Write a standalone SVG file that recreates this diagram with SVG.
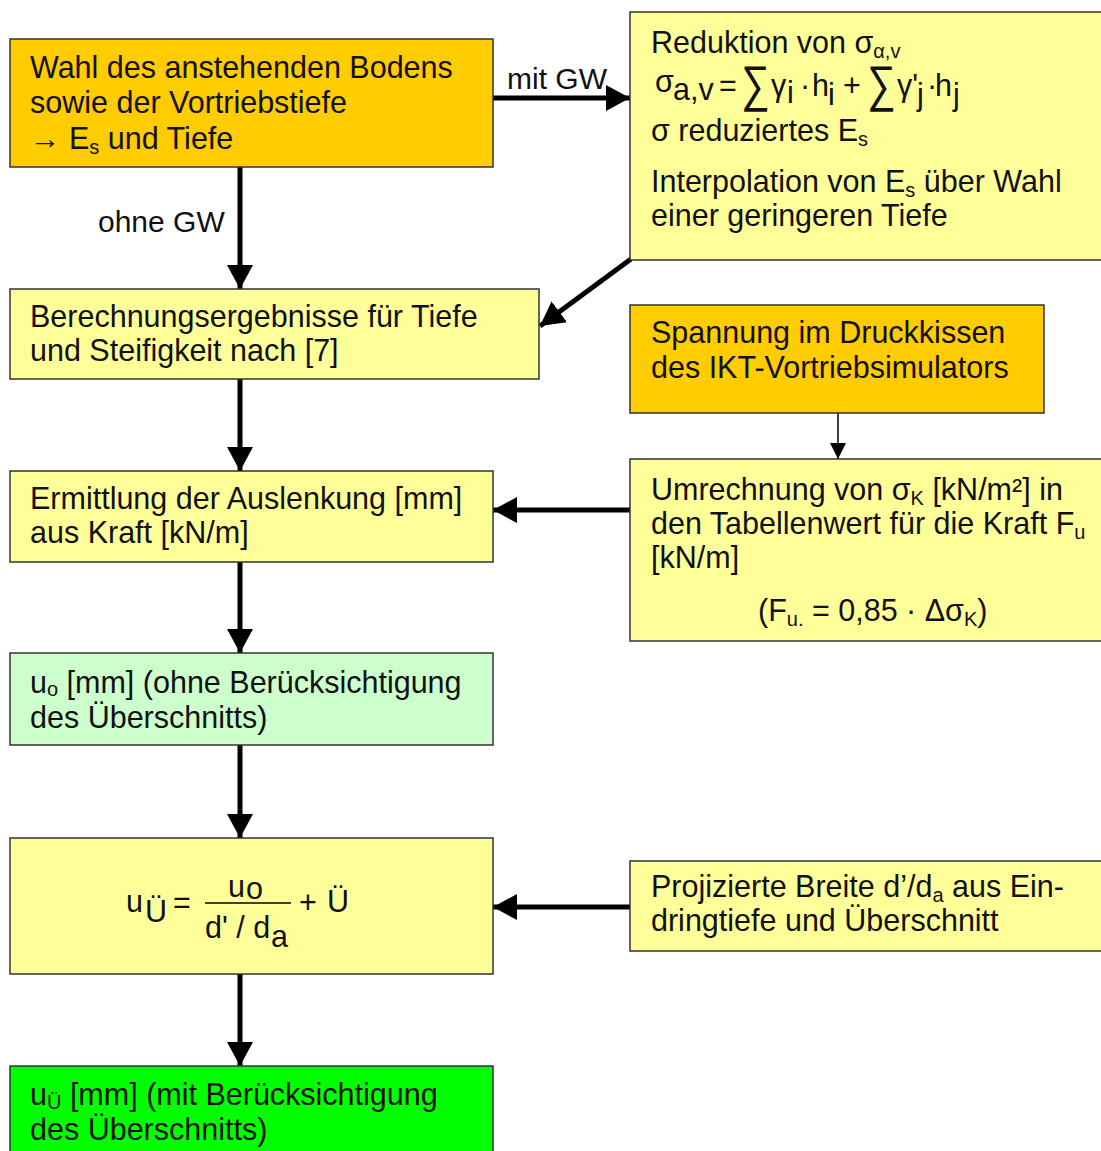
<svg xmlns="http://www.w3.org/2000/svg" width="1101" height="1151" viewBox="0 0 1101 1151">
<defs>
<style>
text{font-family:"Liberation Sans",Arial,"DejaVu Sans",sans-serif;font-size:30.5px;fill:#111;}
.box{stroke:#333;stroke-width:1.5;}
.orange{fill:#FFCC00;}
.yellow{fill:#FFFF99;}
.lgreen{fill:#CCFFCC;}
.green{fill:#00FF00;}
.thick{stroke:#000;stroke-width:5;fill:none;}
.thin{stroke:#000;stroke-width:1.5;fill:none;}
.sub{font-size:20px;}
.lbl{font-size:30px;}
.sum{font-size:40px;}
</style>
<marker id="big" markerUnits="userSpaceOnUse" markerWidth="24" markerHeight="26" refX="24" refY="13" orient="auto" viewBox="0 0 24 26">
<path d="M0,0 L24,13 L0,26 z" fill="#000"/>
</marker>
<marker id="small" markerUnits="userSpaceOnUse" markerWidth="16" markerHeight="16" refX="16" refY="8" orient="auto" viewBox="0 0 16 16">
<path d="M0,0 L16,8 L0,16 z" fill="#000"/>
</marker>
</defs>
<rect width="1101" height="1151" fill="#fff"/>

<g id="connectors">
<line class="thick" x1="493" y1="98" x2="630" y2="98" marker-end="url(#big)"/>
<text class="lbl" x="507" y="89">mit GW</text>
<line class="thick" x1="240" y1="167" x2="240" y2="289" marker-end="url(#big)"/>
<text class="lbl" x="98" y="232">ohne GW</text>
<line class="thick" x1="631" y1="259" x2="540" y2="326" stroke-width="4" marker-end="url(#big)"/>
<line class="thick" x1="240" y1="379" x2="240" y2="471" marker-end="url(#big)"/>
<line class="thin" x1="838" y1="413" x2="838" y2="459" marker-end="url(#small)"/>
<line class="thick" x1="630" y1="510" x2="493" y2="510" marker-end="url(#big)"/>
<line class="thick" x1="240" y1="562" x2="240" y2="653" marker-end="url(#big)"/>
<line class="thick" x1="240" y1="745" x2="240" y2="838" marker-end="url(#big)"/>
<line class="thick" x1="630" y1="907" x2="493" y2="907" marker-end="url(#big)"/>
<line class="thick" x1="240" y1="974" x2="240" y2="1066" marker-end="url(#big)"/>
</g>

<g id="n1">
<rect class="box orange" x="10" y="39" width="483" height="128"/>
<text x="30" y="78">Wahl des anstehenden Bodens</text>
<text x="30" y="113">sowie der Vortriebstiefe</text>
<text x="30" y="149">→ E<tspan class="sub" dy="5">s</tspan><tspan dy="-5"> und Tiefe</tspan></text>
</g>

<g id="n2">
<rect class="box yellow" x="630" y="12" width="475" height="248"/>
<text x="651" y="53">Reduktion von σ<tspan class="sub" dy="5">α,v</tspan></text>
<g>
<text x="655" y="92" font-size="28">σ</text>
<text x="673" y="100" font-size="21">a,v</text>
<text x="719" y="96" font-size="26">=</text>
<text class="sum" x="741" y="101" transform="translate(741 101) scale(1 1.25) translate(-741 -101)">∑</text>
<text x="771" y="96" font-size="28">γ</text>
<text x="787" y="103" font-size="22">i</text>
<text x="800" y="96" font-size="26">·</text>
<text x="812" y="96" font-size="27">h</text>
<text x="828" y="105" font-size="22">i</text>
<text x="843" y="96" font-size="26">+</text>
<text class="sum" x="867" y="101" transform="translate(867 101) scale(1 1.25) translate(-867 -101)">∑</text>
<text x="897" y="96" font-size="28">γ'</text>
<text x="917" y="105" font-size="22">j</text>
<text x="927" y="96" font-size="26">·</text>
<text x="935" y="96" font-size="27">h</text>
<text x="953" y="105" font-size="22">j</text>
</g>
<text x="651" y="141">σ reduziertes E<tspan class="sub" dy="5">s</tspan></text>
<text x="651" y="192">Interpolation von E<tspan class="sub" dy="5">s</tspan><tspan dy="-5"> über Wahl</tspan></text>
<text x="651" y="226">einer geringeren Tiefe</text>
</g>

<g id="n3">
<rect class="box yellow" x="10" y="289" width="529" height="90"/>
<text x="30" y="327">Berechnungsergebnisse für Tiefe</text>
<text x="30" y="361">und Steifigkeit nach [7]</text>
</g>

<g id="n4">
<rect class="box orange" x="630" y="305" width="414" height="108"/>
<text x="651" y="343">Spannung im Druckkissen</text>
<text x="651" y="378">des IKT-Vortriebsimulators</text>
</g>

<g id="n5">
<rect class="box yellow" x="10" y="471" width="483" height="91"/>
<text x="30" y="509">Ermittlung der Auslenkung [mm]</text>
<text x="30" y="543">aus Kraft [kN/m]</text>
</g>

<g id="n6">
<rect class="box yellow" x="630" y="459" width="475" height="182"/>
<text x="651" y="500">Umrechnung von σ<tspan class="sub" dy="5">K</tspan><tspan dy="-5"> [kN/m²] in</tspan></text>
<text x="651" y="534">den Tabellenwert für die Kraft F<tspan class="sub" dy="5">u</tspan></text>
<text x="651" y="568">[kN/m]</text>
<text x="758" y="621">(F<tspan class="sub" dy="5">u.</tspan><tspan dy="-5"> = 0,85  · Δσ</tspan><tspan class="sub" dy="5">K</tspan><tspan dy="-5">)</tspan></text>
</g>

<g id="n7">
<rect class="box lgreen" x="10" y="653" width="483" height="92"/>
<text x="30" y="693">u<tspan class="sub" dy="3">o</tspan><tspan dy="-3"> [mm] (ohne Berücksichtigung</tspan></text>
<text x="30" y="728">des Überschnitts)</text>
</g>

<g id="n8">
<rect class="box yellow" x="10" y="838" width="483" height="136"/>
<text x="126" y="912">u</text>
<text x="145" y="922" font-size="22">Ü</text>
<text x="173" y="913">=</text>
<text x="228" y="897">u</text>
<text x="246" y="899" font-size="26">o</text>
<line x1="205" y1="903" x2="291" y2="903" stroke="#000" stroke-width="1.5"/>
<text x="205" y="938">d' / d</text>
<text x="271" y="947" font-size="24">a</text>
<text x="299" y="913">+</text>
<text x="327" y="912">Ü</text>
</g>

<g id="n9">
<rect class="box yellow" x="630" y="861" width="475" height="90"/>
<text x="651" y="897">Projizierte Breite d’/d<tspan class="sub" dy="5">a</tspan><tspan dy="-5"> aus Ein-</tspan></text>
<text x="651" y="931">dringtiefe und Überschnitt</text>
</g>

<g id="n10">
<rect class="box green" x="10" y="1066" width="483" height="95"/>
<text x="30" y="1105">u<tspan class="sub" dy="4">Ü</tspan><tspan dy="-4"> [mm] (mit Berücksichtigung</tspan></text>
<text x="30" y="1140">des Überschnitts)</text>
</g>
</svg>
